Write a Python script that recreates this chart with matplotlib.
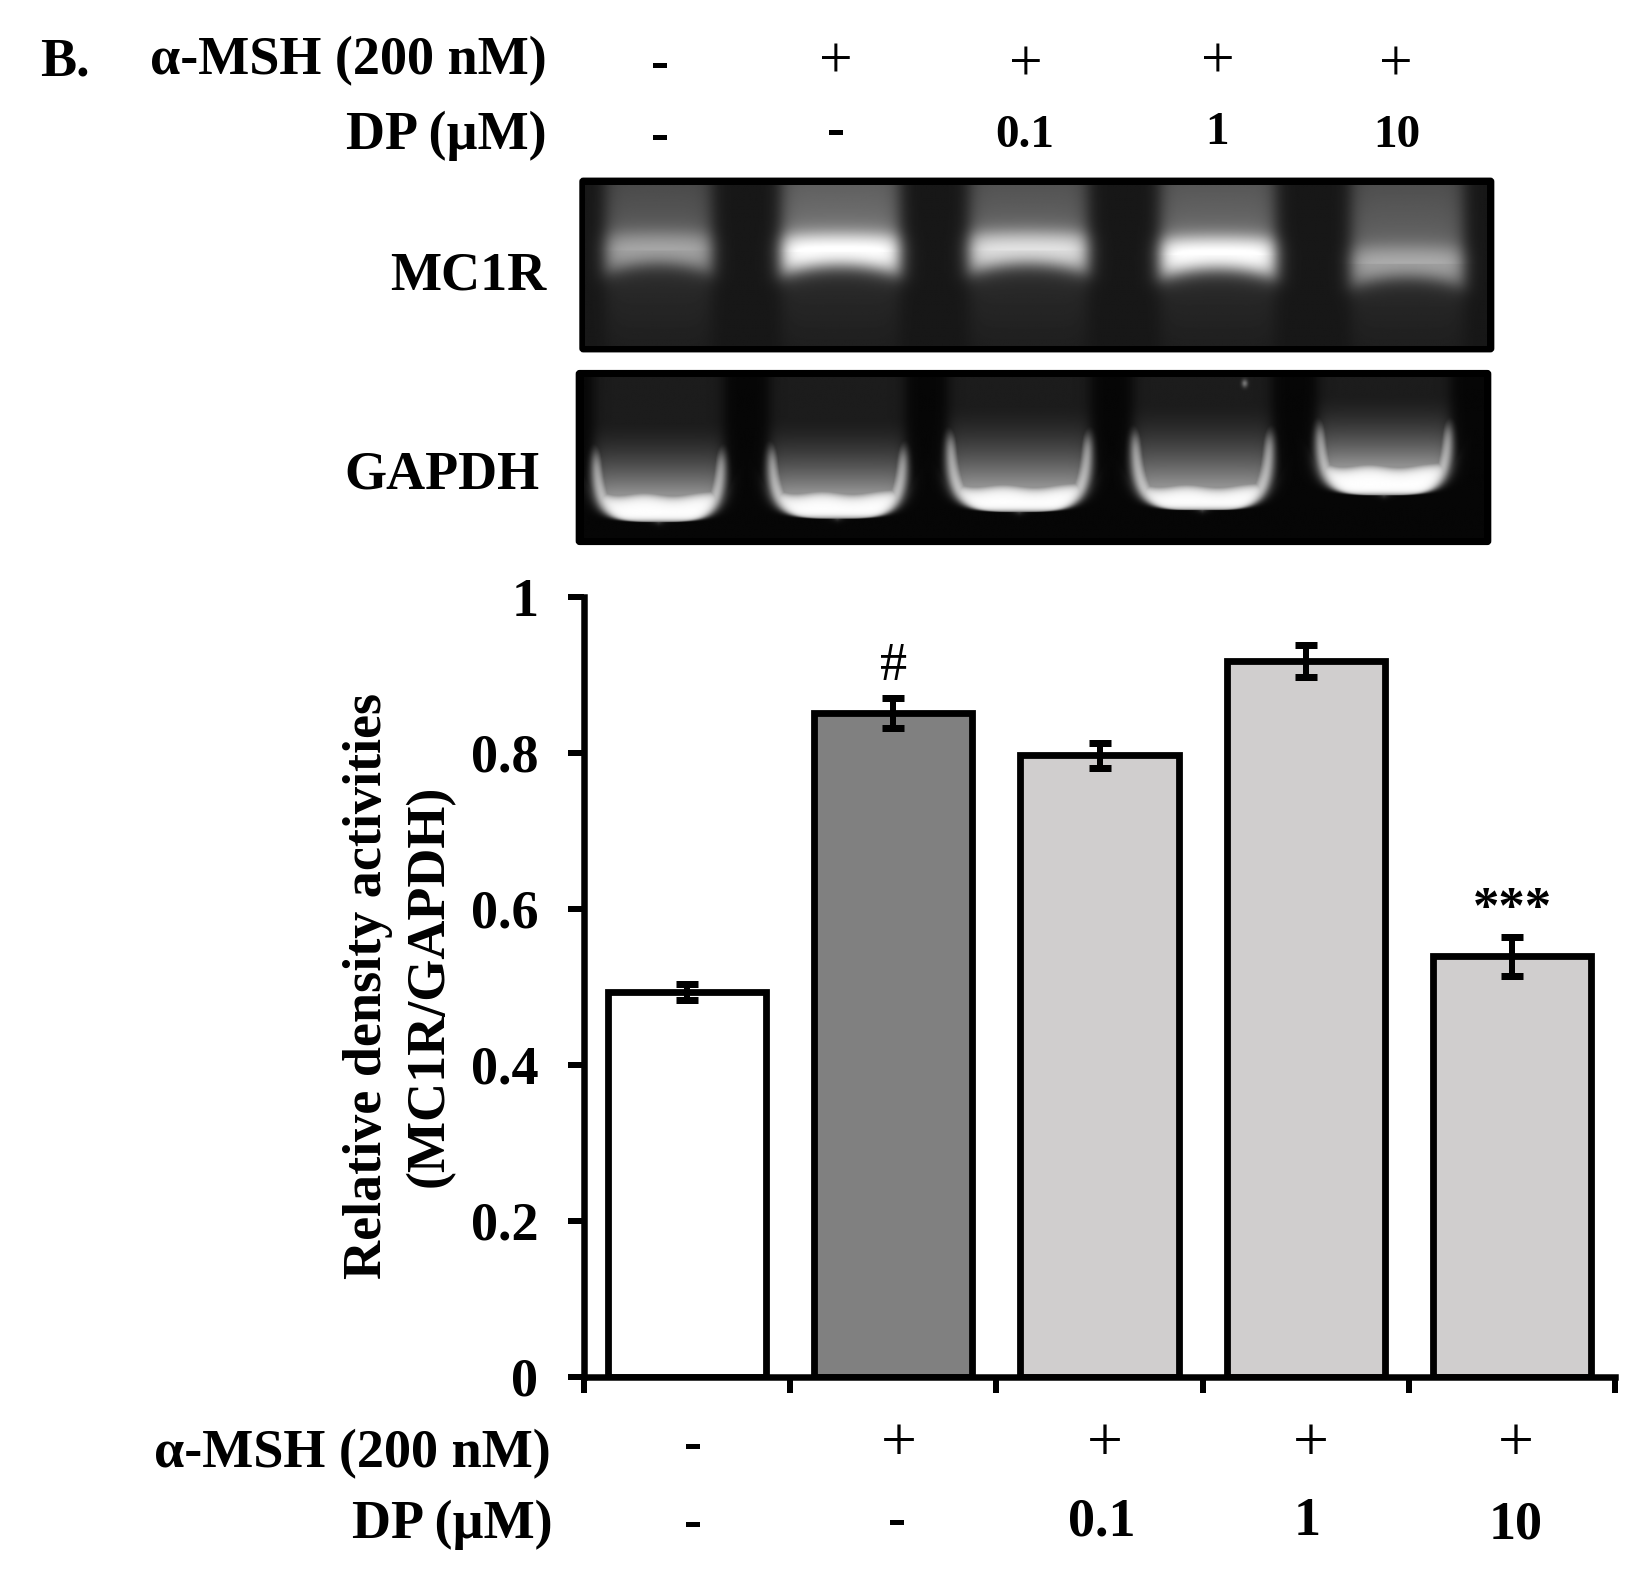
import numpy as np
import matplotlib
matplotlib.use("Agg")
import matplotlib.pyplot as plt
from matplotlib.patches import FancyBboxPatch

W, H = 1648, 1575
SERIF = ["Liberation Serif", "DejaVu Serif"]
PX = 0.72
FS = 39

# ---- data ----
conditions = ["control", "aMSH", "DP 0.1", "DP 1", "DP 10"]
density = [0.493, 0.851, 0.797, 0.918, 0.539]
errors = [0.010, 0.019, 0.016, 0.020, 0.025]
bar_colors = ["#FFFFFF", "#808080", "#D0CECE", "#D0CECE", "#D0CECE"]
y_ticks = [0, 0.2, 0.4, 0.6, 0.8, 1]
y_tick_labels = ["0", "0.2", "0.4", "0.6", "0.8", "1"]
msh_row = ["-", "+", "+", "+", "+"]
dp_row = ["-", "-", "0.1", "1", "10"]
annotations = ["", "#", "", "", "***"]

# gel lanes: left, right, band row, peak, upper level
mc1r_lanes = [(75, 250, 240, 0.64, 0.36), (365, 560, 245, 1.02, 0.46),
              (675, 870, 240, 0.88, 0.40), (990, 1180, 255, 1.02, 0.42),
              (1305, 1490, 280, 0.64, 0.38)]
# gel lanes: left, right, bottom row, rim top row, band row
gapdh_lanes = [(55, 270, 1055, 840, 970), (345, 570, 1045, 830, 965),
               (640, 875, 1025, 790, 945), (945, 1175, 1020, 785, 945),
               (1250, 1470, 975, 760, 885)]


def sig(v):
    return 1 / (1 + np.exp(-np.clip(v, -30, 30)))


def mc1r_image():
    x, y = np.meshgrid(np.arange(42, 1530, 2.0), np.arange(45, 527, 2.0))
    img = np.full(x.shape, 0.09)
    for xl, xr, yb, peak, top in mc1r_lanes:
        c, hw = (xl + xr) / 2, (xr - xl) / 2
        u = (x - c) / hw
        ytop = yb - 58 + 6 * u ** 2
        ybot = yb + 42 + 30 * u ** 2
        ridge = 0.84 + 0.16 * np.exp(-((y - (yb + 4 * u ** 2)) / 55) ** 2)
        lower = 0.17 - 0.05 * (y - 300) / 230
        up = top * (0.82 + 0.18 * (y - 45) / 150) + (peak * ridge - top) * sig((y - ytop) / 15)
        low = lower + (peak * ridge - lower) * sig((ybot - y) / 15)
        prof = np.where(y < yb, up, low)
        lat = sig((hw - np.abs(x - c)) / 8)
        img = np.maximum(img, 0.09 + (prof - 0.09) * lat)
    return np.clip(img, 0, 1)


def gapdh_image():
    x, y = np.meshgrid(np.arange(40, 1525, 2.0), np.arange(622, 1103, 2.0))
    img = np.full(x.shape, 0.025)
    for xl, xr, yb, yr, ybd in gapdh_lanes:
        c, hw = (xl + xr) / 2, (xr - xl) / 2
        u = (x - c) / hw
        t = np.clip((y - yr) / (yb - yr), 0, 1)
        w = hw * (1 - t ** 4) ** (1 / 4)
        e = w - np.abs(x - c)
        mask = sig(e / 6) * sig((yb - y) / 5)
        g = 0.11 + 0.46 * np.clip((y - (yr - 90)) / (ybd - yr + 90), 0, 1) ** 1.7
        band = sig((y - ybd - 4 * np.sin(u * 7) + 22 * u ** 6) / 10)
        rim = np.exp(-(e / (13 + 34 * t ** 2)) ** 2) * sig((y - yr - 8) / 18)
        val = np.maximum(np.maximum(g, band), rim)
        img = np.maximum(img, 0.025 + (val - 0.025) * mask)
    img += 0.35 * np.exp(-(((x - 1130) / 5) ** 2 + ((y - 640) / 12) ** 2))
    return np.clip(img, 0, 1)


def zx(v):
    return 560 + v / 1.6505


def zy(v):
    return 170 + v / 3.0


fig = plt.figure(figsize=(W / 100, H / 100), dpi=100, facecolor="white")

# ---- bar chart ----
L, R, T, B = 584, 1615, 597, 1376.5
ax = fig.add_axes([L / W, 1 - B / H, (R - L) / W, (B - T) / H])
xpos = np.arange(len(density)) + 0.5
ax.bar(xpos, density, width=0.767, color=bar_colors, edgecolor="black",
       linewidth=6.8 * PX, zorder=2)
ax.errorbar(xpos, density, yerr=errors, fmt="none", ecolor="black",
            elinewidth=6 * PX, capsize=11.5 * PX, capthick=7 * PX, zorder=3)
ax.set_xlim(0, 5)
ax.set_ylim(0, 1)
ax.set_xticks(np.arange(6))
ax.set_xticklabels([])
ax.set_yticks(y_ticks)
ax.set_yticklabels(y_tick_labels, fontfamily=SERIF, fontweight="bold", fontsize=FS)
ax.tick_params(axis="both", length=(13 + 3) * PX, width=6 * PX, color="black")
ax.tick_params(axis="y", pad=21.5)
for s in ("top", "right"):
    ax.spines[s].set_visible(False)
for s in ("left", "bottom"):
    ax.spines[s].set_linewidth(6.5 * PX)
    ax.spines[s].set_zorder(4)
for x, lab, val, err in zip(xpos, annotations, density, errors):
    if lab == "#":
        ax.text(x, val + err + 0.040, lab, ha="center", va="center",
                family=SERIF, fontsize=39)
    elif lab:
        ax.text(x, val + err + 0.035, lab, ha="center", va="center",
                family=SERIF, fontsize=38, fontweight="bold")

# ---- overlay in figure pixels ----
ov = fig.add_axes([0, 0, 1, 1], zorder=5)
ov.patch.set_alpha(0)
ov.axis("off")


def gel(frame, img, extent):
    ov.add_patch(FancyBboxPatch((frame[0] + 2, frame[1] + 2), frame[2] - frame[0] - 4,
                                frame[3] - frame[1] - 4, boxstyle="round,pad=0,rounding_size=2",
                                fc="black", ec="black", lw=3))
    ov.imshow(img, cmap="gray", vmin=0, vmax=1, extent=extent, aspect="auto",
              interpolation="bilinear", zorder=3)


gel((zx(32), zy(23), zx(1542), zy(547)), mc1r_image(), (zx(42), zx(1530), zy(527), zy(45)))
gel((zx(26), zy(600), zx(1537), zy(1125)), gapdh_image(), (zx(40), zx(1525), zy(1103), zy(622)))
ov.set_xlim(0, W)
ov.set_ylim(H, 0)


def t(x, y, s, ha="center", **kw):
    kw.setdefault("fontweight", "bold")
    kw.setdefault("fontsize", FS)
    ov.text(x, y, s, ha=ha, va="center", family=SERIF, color="black", **kw)


S = 1648 / 1568
t(38 * S, 59 * S, "B.", ha="left")
t(520 * S, 58 * S, "α-MSH (200 nM)", ha="right")
t(520 * S, 129 * S, "DP (µM)", ha="right")
t(520 * S, 263 * S, "MC1R", ha="right")
t(513 * S, 452 * S, "GAPDH", ha="right")
t(524 * S, 1384 * S, "α-MSH (200 nM)", ha="right")
t(526 * S, 1451 * S, "DP (µM)", ha="right")

top_msh_xy = [(628, 63), (795, 60), (976, 63), (1159, 60), (1328, 63)]
top_dp_xy = [(628, 131), (795, 127), (975, 129), (1158, 127), (1329, 129)]
bot_msh_xy = [(659, 1377), (855, 1376), (1051, 1376), (1247, 1376), (1442, 1376)]
bot_dp_xy = [(659, 1451), (853, 1449), (1048, 1449), (1244, 1448), (1442, 1451)]
for lab, (x, y) in zip(msh_row, top_msh_xy):
    if lab == "-":
        t(x * S, y * S, lab)
    else:
        t(x * S, y * S, lab, fontweight="normal", fontsize=43)
for lab, (x, y) in zip(dp_row, top_dp_xy):
    t(x * S, y * S, lab, fontsize=FS if lab == "-" else 34)
for lab, (x, y) in zip(msh_row, bot_msh_xy):
    if lab == "-":
        t(x * S, y * S, lab)
    else:
        t(x * S, y * S, lab, fontweight="normal", fontsize=46)
for lab, (x, y) in zip(dp_row, bot_dp_xy):
    t(x * S, y * S, lab)

t(350 * S, 938 * S, "Relative density activities", rotation=90)
t(409 * S, 938 * S, "(MC1R/GAPDH)", rotation=90)

fig.savefig("out.png", dpi=100, facecolor="white")
